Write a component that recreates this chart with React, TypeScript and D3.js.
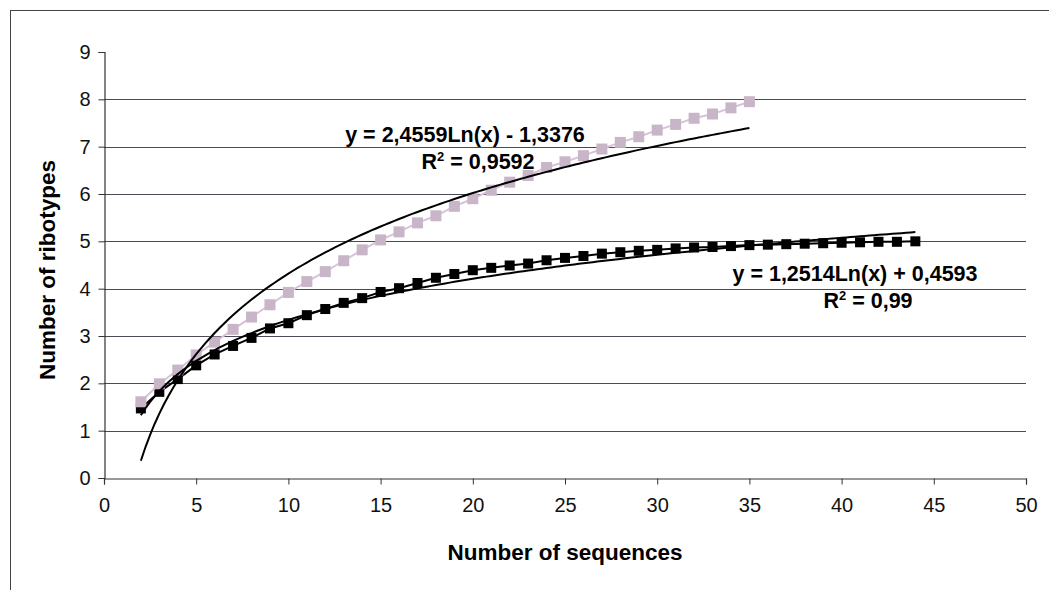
import React, { useEffect, useRef } from "react";
import * as d3 from "d3";

// rarefaction data
const seqA = [2, 3, 4, 5, 6, 7, 8, 9, 10, 11, 12, 13, 14, 15, 16, 17, 18, 19, 20, 21, 22, 23, 24, 25, 26, 27, 28, 29, 30, 31, 32, 33, 34, 35];
const ribA = [1.61, 1.99, 2.28, 2.6, 2.87, 3.14, 3.4, 3.66, 3.92, 4.15, 4.36, 4.59, 4.82, 5.03, 5.2, 5.39, 5.54, 5.74, 5.9, 6.08, 6.25, 6.39, 6.56, 6.68, 6.81, 6.95, 7.09, 7.21, 7.35, 7.47, 7.6, 7.69, 7.82, 7.95];

const seqB = [2, 3, 4, 5, 6, 7, 8, 9, 10, 11, 12, 13, 14, 15, 16, 17, 18, 19, 20, 21, 22, 23, 24, 25, 26, 27, 28, 29, 30, 31, 32, 33, 34, 35, 36, 37, 38, 39, 40, 41, 42, 43, 44];
const ribB = [1.47, 1.82, 2.09, 2.38, 2.61, 2.79, 2.96, 3.16, 3.27, 3.44, 3.57, 3.7, 3.8, 3.93, 4.01, 4.12, 4.23, 4.31, 4.39, 4.44, 4.49, 4.53, 4.6, 4.65, 4.69, 4.74, 4.77, 4.8, 4.82, 4.85, 4.87, 4.88, 4.9, 4.92, 4.93, 4.94, 4.95, 4.96, 4.97, 4.98, 4.99, 4.99, 5.0];

// log trendlines as printed on the chart: [slope, intercept]
const trendA = [2.4559, -1.3376];
const trendB = [1.2514, 0.4593];
const trendLabels = [
  ["y = 2,4559Ln(x) - 1,3376", "0,9592"],
  ["y = 1,2514Ln(x) + 0,4593", "0,99"],
];

const xTicks = [0, 5, 10, 15, 20, 25, 30, 35, 40, 45, 50];
const yTicks = [0, 1, 2, 3, 4, 5, 6, 7, 8, 9];

const W = 1049;
const H = 590;
const FONT = "'Liberation Sans', Arial, sans-serif";

const App = () => {
  const svgRef = useRef(null);

  useEffect(() => {
    const svg = d3.select(svgRef.current);
    svg.selectAll("*").remove();

    const x = d3.scaleLinear().domain([0, 50]).range([104, 1026]);
    const y = d3.scaleLinear().domain([0, 9]).range([478, 52]);

    // outer frame (runs off the right / bottom like the scan)
    svg.append("rect")
      .attr("x", 10.5).attr("y", 10.5)
      .attr("width", W + 20).attr("height", H + 20)
      .attr("fill", "none").attr("stroke", "#444").attr("stroke-width", 1);

    // gridlines
    svg.append("g")
      .selectAll("line")
      .data(yTicks.filter((t) => t > 0 && t < 9))
      .enter()
      .append("line")
      .attr("x1", x(0)).attr("x2", x(50))
      .attr("y1", (d) => Math.round(y(d)) + 0.5)
      .attr("y2", (d) => Math.round(y(d)) + 0.5)
      .attr("stroke", "#4a4a5a").attr("stroke-width", 1);

    // axes
    const yAxis = svg.append("g")
      .attr("transform", `translate(${x(0) + 0.5},0)`)
      .call(d3.axisLeft(y).tickValues(yTicks).tickSize(6).tickPadding(8));
    const xAxis = svg.append("g")
      .attr("transform", `translate(0,${y(0) + 0.5})`)
      .call(d3.axisBottom(x).tickValues(xTicks).tickSize(6).tickPadding(13));
    [yAxis, xAxis].forEach((g) => {
      g.select(".domain").attr("stroke", "#333").attr("stroke-width", 1.2);
      g.selectAll(".tick line").attr("stroke", "#333");
      g.selectAll(".tick text")
        .attr("font-family", FONT).attr("font-size", 20).attr("fill", "#111");
    });

    const line = d3.line().x((d) => x(d[0])).y((d) => y(d[1]));
    const ptsA = seqA.map((s, i) => [s, ribA[i]]);
    const ptsB = seqB.map((s, i) => [s, ribB[i]]);

    // black series
    svg.append("path").datum(ptsB).attr("d", line)
      .attr("fill", "none").attr("stroke", "#000").attr("stroke-width", 2);
    svg.append("g").selectAll("rect").data(ptsB).enter().append("rect")
      .attr("x", (d) => x(d[0]) - 5).attr("y", (d) => y(d[1]) - 5)
      .attr("width", 10).attr("height", 10).attr("fill", "#000");

    // pink series
    svg.append("path").datum(ptsA).attr("d", line)
      .attr("fill", "none").attr("stroke", "#d9c2d9").attr("stroke-width", 2);
    svg.append("g").selectAll("rect").data(ptsA).enter().append("rect")
      .attr("x", (d) => x(d[0]) - 5.5).attr("y", (d) => y(d[1]) - 5.5)
      .attr("width", 11).attr("height", 11).attr("fill", "#c8b6c8");

    // trendlines
    const trend = (coef, x0, x1) =>
      d3.range(x0, x1 + 0.001, 0.25).map((v) => [v, coef[0] * Math.log(v) + coef[1]]);
    [[trendA, seqA], [trendB, seqB]].forEach(([coef, seq]) => {
      svg.append("path")
        .datum(trend(coef, d3.min(seq), d3.max(seq)))
        .attr("d", line)
        .attr("fill", "none").attr("stroke", "#000").attr("stroke-width", 2);
    });

    // trendline equations
    const labelPos = [[465, 142, 478, 169], [855, 281, 868, 308]];
    trendLabels.forEach(([eq, r2], i) => {
      const [ex, ey, rx, ry] = labelPos[i];
      svg.append("text").attr("x", ex).attr("y", ey).attr("text-anchor", "middle")
        .attr("font-family", FONT).attr("font-size", 21.5).attr("font-weight", "bold")
        .text(eq);
      const t = svg.append("text").attr("x", rx).attr("y", ry).attr("text-anchor", "middle")
        .attr("font-family", FONT).attr("font-size", 21.5).attr("font-weight", "bold");
      t.append("tspan").text("R");
      t.append("tspan").attr("font-size", 13).attr("dy", -8).text("2");
      t.append("tspan").attr("dy", 8).text(" = " + r2);
    });

    // axis titles
    svg.append("text")
      .attr("x", 565).attr("y", 560).attr("text-anchor", "middle")
      .attr("font-family", FONT).attr("font-size", 22.5).attr("font-weight", "bold")
      .text("Number of sequences");
    svg.append("text")
      .attr("transform", "translate(55,270) rotate(-90)").attr("text-anchor", "middle")
      .attr("font-family", FONT).attr("font-size", 22.5).attr("font-weight", "bold")
      .text("Number of ribotypes");
  }, []);

  return (
    <svg ref={svgRef} width={W} height={H}
      style={{ position: "fixed", left: 0, top: 0, background: "#fff", display: "block" }} />
  );
};

export default App;
